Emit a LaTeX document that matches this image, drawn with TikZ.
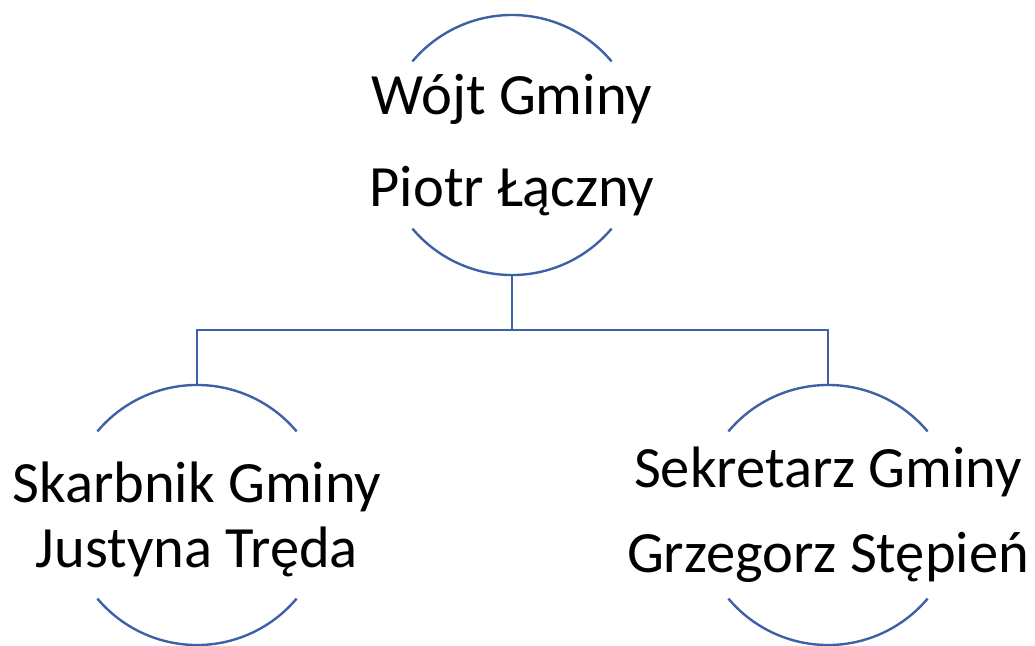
\documentclass[tikz,border=0pt]{standalone}
\usepackage{fontspec}
\setmainfont{Carlito}
\usepackage{tikz}
\definecolor{linkblue}{RGB}{62,96,166}

\begin{document}
\begin{tikzpicture}[x=0.025cm,y=-0.025cm,
  ring/.style={circle,minimum size=6.5cm,inner sep=0pt,outer sep=0pt},
  link/.style={draw=linkblue,line width=1.7pt},
  member/.style={align=center,inner sep=0pt,font=\fontsize{41.6}{#1}\selectfont}]
\useasboundingbox (0,0) rectangle (1035,646);
\node[ring] (wojt) at (512,145) {};
\node[ring] (skarbnik) at (197,515) {};
\node[ring] (sekretarz) at (828,515) {};
\foreach \n in {wojt,skarbnik,sekretarz}
  {
    \draw[link] (\n.40) arc[start angle=40,end angle=140,radius=3.25cm];
    \draw[link] (\n.220) arc[start angle=220,end angle=320,radius=3.25cm];
  }
\node[member=66pt] (wojt-txt) at (wojt) {Wójt Gminy\\Piotr Łączny};
\node[member=46pt] (skarbnik-txt) at ([yshift=-3pt]skarbnik) {Skarbnik Gminy\\Justyna Tręda};
\node[member=60.5pt] (sekretarz-txt) at (sekretarz) {Sekretarz Gminy\\Grzegorz Stępień};
\draw[link] (wojt.south) -- ++(0,55) -| (skarbnik.north);
\draw[link] (wojt.south) -- ++(0,55) -| (sekretarz.north);
\end{tikzpicture}
\end{document}
